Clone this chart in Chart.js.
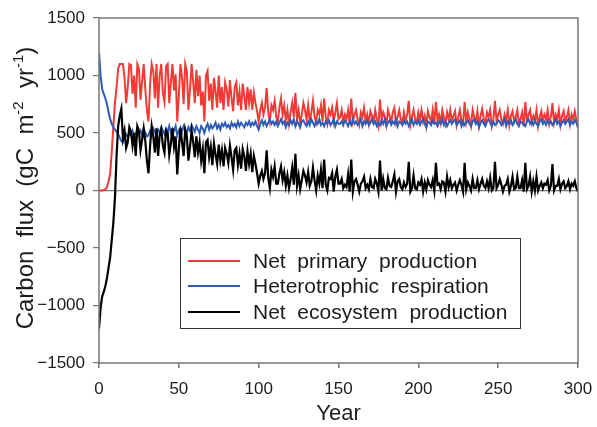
<!DOCTYPE html>
<html>
<head>
<meta charset="utf-8">
<script src="https://cdn.jsdelivr.net/npm/chart.js@4.4.0/dist/chart.umd.min.js"></script>
<style>
  html, body { margin: 0; padding: 0; background: #fff; }
  #wrap { width: 597px; height: 427px; }
</style>
</head>
<body>
<div id="wrap"><canvas id="fluxChart" width="597" height="427"></canvas></div>
<script>
// Net primary production (gC m-2 yr-1), one value per year, 0..300
var npp = [
  0,0,0,5,10,30,80,150,340,560,760,900,1060,1100,1100,
  1100,980,760,900,1100,1090,840,1000,720,1100,
  1060,790,950,1100,880,700,600,930,1100,1040,
  800,1100,720,1000,1100,850,770,1080,1100,760,
  940,1100,870,1010,600,830,1100,980,750,1100,
  1040,700,880,1100,940,760,
  1050,820,1000,740,860,600,1000,1040,780,930,
  700,980,860,720,1000,760,900,700,940,880,
  730,960,800,690,900,940,740,860,700,930,
  820,700,900,760,880,700,850,760,690,600,
  700,760,660,720,890,680,600,740,700,780,
  640,600,720,800,660,740,610,700,580,680,
  760,640,850,620,700,580,660,760,700,620,
  740,600,680,780,640,590,700,660,740,600,
  800,640,580,700,660,720,600,680,760,620,
  640,700,590,660,620,700,580,800,600,660,
  700,620,570,680,640,720,600,660,580,690,
  650,600,700,620,560,790,610,680,640,570,
  700,650,600,680,720,590,640,700,620,580,
  680,610,660,780,570,640,700,620,590,680,
  620,700,600,650,560,690,640,600,700,580,
  770,610,660,590,700,640,580,680,620,700,
  600,650,690,570,640,700,610,580,770,600,
  680,620,560,700,640,600,690,560,650,710,
  620,580,680,640,700,560,620,780,600,660,
  700,620,580,660,610,700,570,650,690,600,
  640,700,580,620,680,560,770,610,660,700,
  590,650,610,700,560,640,690,600,660,620,
  700,580,640,760,590,660,620,700,570,650,
  690,600,640,700,580,660,620,690,610,540
];

// Heterotrophic respiration
var hr = [
  1200,1000,880,840,800,750,680,620,580,550,530,510,490,460,430,
  420,450,490,470,500,480,520,470,500,540,
  490,520,480,540,500,470,480,520,500,540,
  510,480,530,500,550,520,490,540,510,560,
  500,540,520,560,480,520,550,510,560,530,
  500,550,520,570,540,510,
  560,530,500,560,540,500,550,580,530,570,
  540,560,590,540,570,530,580,560,590,550,
  570,540,590,560,580,550,600,560,590,570,
  550,590,570,600,560,590,570,600,560,530,
  580,610,570,600,560,590,620,580,600,570,
  600,560,590,620,580,600,550,590,570,610,
  580,620,560,600,580,550,600,610,580,560,
  600,570,620,590,560,600,580,620,570,590,
  560,600,580,610,570,590,620,560,600,580,
  580,600,570,610,590,560,600,570,620,580,
  600,570,590,620,560,600,580,610,570,590,
  620,580,600,560,590,570,610,580,620,560,
  590,610,570,600,580,620,560,600,590,570,
  610,580,600,560,590,620,570,600,580,610,
  570,600,620,580,550,600,590,570,610,580,
  590,560,600,580,620,570,600,560,590,610,
  580,600,620,570,590,610,560,600,570,590,
  610,580,560,600,620,580,600,550,590,610,
  580,560,600,620,590,560,600,570,580,610,
  600,570,590,620,560,600,580,610,570,590,
  620,580,560,600,590,570,560,600,620,580,
  600,570,610,580,560,600,620,580,600,570,
  610,580,600,570,590,620,580,600,560,590,
  610,580,600,620,570,600,580,610,590,550
];

// Net ecosystem production
var nep = [
  -1200,-1020,-920,-880,-830,-760,-670,-580,-430,-280,-60,300,560,650,710,
  450,520,370,420,550,510,390,500,300,560,
  520,350,440,540,430,260,150,390,560,470,
  330,540,300,480,530,390,330,520,500,310,
  410,540,380,470,140,360,540,420,300,530,
  470,260,380,520,420,290,
  470,330,420,260,360,150,420,440,290,380,
  220,410,310,230,400,260,350,210,370,320,
  240,390,290,180,350,370,220,320,190,360,
  300,170,340,230,320,160,300,230,150,60,
  130,170,100,150,350,110,20,180,120,210,
  60,60,150,210,90,160,40,130,20,100,
  200,50,320,40,130,10,90,170,130,70,
  160,40,80,200,90,0,130,60,180,20,
  270,50,0,110,100,150,-10,120,180,60,
  60,100,20,50,30,140,-10,270,-10,80,
  100,50,-10,60,80,120,20,50,10,100,
  30,20,100,60,-10,260,0,100,20,10,
  110,40,30,80,140,-10,80,100,30,10,
  70,30,60,250,-10,20,130,20,10,70,
  50,100,-10,70,10,90,50,30,90,0,
  240,50,60,10,80,70,-10,120,30,90,
  20,50,70,0,50,90,50,-10,240,10,
  70,40,0,100,20,20,90,10,60,100,
  40,20,80,20,110,0,20,250,20,50,
  100,50,-10,40,50,100,-10,40,120,10,
  20,120,20,20,90,-10,240,10,40,120,
  -10,80,0,120,0,40,70,20,60,50,
  90,0,40,230,0,40,40,100,10,60,
  80,20,40,80,10,60,40,80,20,-10
];

var xTickValues = [0, 50, 100, 150, 200, 250, 300];
var yTickValues = [-1500, -1000, -500, 0, 500, 1000, 1500];
var seriesNames = ['Net  primary  production', 'Heterotrophic  respiration', 'Net  ecosystem  production'];
var seriesColors = ['#f03a35', '#2d5bb5', '#000000'];

var years = npp.map(function(v, i) { return i; });

function toPoints(values) {
  return values.map(function(v, i) { return { x: years[i], y: v }; });
}

var axisGray = '#767676';
var textColor = '#1c1c1c';
var fontFamily = '"Liberation Sans", Arial, sans-serif';

// frame around the plot area
var framePlugin = {
  id: 'frame',
  afterDatasetsDraw: function(chart) {
    var a = chart.chartArea;
    var ctx = chart.ctx;
    ctx.save();
    ctx.strokeStyle = axisGray;
    ctx.lineWidth = 1.5;
    ctx.strokeRect(a.left, a.top, a.right - a.left, a.bottom - a.top);
    ctx.restore();
  }
};

// y title with superscripts
var yTitlePlugin = {
  id: 'yTitle',
  afterDraw: function(chart) {
    var ctx = chart.ctx;
    var parts = [
      { t: 'Carbon  flux  (gC  m', sup: false },
      { t: '-2', sup: true },
      { t: '  yr', sup: false },
      { t: '-1', sup: true },
      { t: ')', sup: false }
    ];
    var big = '24px ' + fontFamily;
    var small = '15px ' + fontFamily;
    ctx.save();
    var total = 0;
    parts.forEach(function(p) {
      ctx.font = p.sup ? small : big;
      p.w = ctx.measureText(p.t).width;
      total += p.w;
    });
    ctx.translate(33, 188);
    ctx.rotate(-Math.PI / 2);
    ctx.fillStyle = textColor;
    ctx.textBaseline = 'alphabetic';
    var x = -total / 2;
    parts.forEach(function(p) {
      ctx.font = p.sup ? small : big;
      ctx.fillText(p.t, x, p.sup ? -10 : 0);
      x += p.w;
    });
    ctx.restore();
  }
};

// boxed legend inside the plot
var legendPlugin = {
  id: 'boxLegend',
  afterDraw: function(chart) {
    var ctx = chart.ctx;
    ctx.save();
    ctx.fillStyle = '#ffffff';
    ctx.fillRect(180, 238, 340, 90);
    ctx.strokeStyle = '#333333';
    ctx.lineWidth = 1;
    ctx.strokeRect(180.5, 238.5, 340, 90);
    ctx.font = '21px ' + fontFamily;
    ctx.textBaseline = 'alphabetic';
    var rows = [261, 286, 312];
    for (var i = 0; i < seriesNames.length; i++) {
      ctx.strokeStyle = seriesColors[i];
      ctx.lineWidth = 2;
      ctx.beginPath();
      ctx.moveTo(188, rows[i]);
      ctx.lineTo(240, rows[i]);
      ctx.stroke();
      ctx.fillStyle = textColor;
      ctx.fillText(seriesNames[i], 253, rows[i] + 7);
    }
    if (npp.length !== 301 || hr.length !== 301 || nep.length !== 301) {
      ctx.fillStyle = 'red';
      ctx.font = '12px sans-serif';
      ctx.fillText(npp.length + ' ' + hr.length + ' ' + nep.length, 300, 30);
    }
    ctx.restore();
  }
};

var ctx = document.getElementById('fluxChart').getContext('2d');
new Chart(ctx, {
  type: 'line',
  data: {
    datasets: [
      { label: seriesNames[0], data: toPoints(npp), borderColor: seriesColors[0], borderWidth: 2, pointRadius: 0, order: 3 },
      { label: seriesNames[1], data: toPoints(hr), borderColor: seriesColors[1], borderWidth: 2, pointRadius: 0, order: 2 },
      { label: seriesNames[2], data: toPoints(nep), borderColor: seriesColors[2], borderWidth: 2.2, pointRadius: 0, order: 1 }
    ]
  },
  options: {
    responsive: false,
    animation: false,
    layout: { padding: { top: 18, right: 19, left: 0, bottom: 0 } },
    plugins: {
      legend: { display: false },
      tooltip: { enabled: false }
    },
    elements: { line: { tension: 0 } },
    scales: {
      x: {
        type: 'linear',
        min: 0,
        max: 300,
        afterBuildTicks: function(s) { s.ticks = xTickValues.map(function(v) { return { value: v }; }); },
        afterFit: function(s) { s.height = 64; s.paddingLeft = 0; s.paddingRight = 0; },
        border: { display: false },
        grid: { drawOnChartArea: false, tickLength: 5, tickColor: axisGray, lineWidth: 1.5 },
        ticks: {
          color: textColor,
          padding: 11,
          maxRotation: 0,
          font: { family: fontFamily, size: 17 },
          callback: function(v) { return String(v); }
        },
        title: {
          display: true,
          text: 'Year',
          color: textColor,
          font: { family: fontFamily, size: 22 },
          padding: { top: 0, bottom: 0 }
        }
      },
      y: {
        type: 'linear',
        min: -1500,
        max: 1500,
        afterBuildTicks: function(s) { s.ticks = yTickValues.map(function(v) { return { value: v }; }); },
        afterFit: function(s) { s.width = 99; s.paddingTop = 0; s.paddingBottom = 0; },
        border: { display: false },
        grid: {
          color: function(c) { return c.tick && c.tick.value === 0 ? axisGray : 'rgba(0,0,0,0)'; },
          lineWidth: 1.2,
          tickLength: 6,
          tickColor: axisGray
        },
        ticks: {
          color: textColor,
          padding: 8,
          font: { family: fontFamily, size: 17 },
          callback: function(v) { return v < 0 ? '\u2212' + Math.abs(v) : String(v); }
        }
      }
    }
  },
  plugins: [framePlugin, yTitlePlugin, legendPlugin]
});
</script>
</body>
</html>
